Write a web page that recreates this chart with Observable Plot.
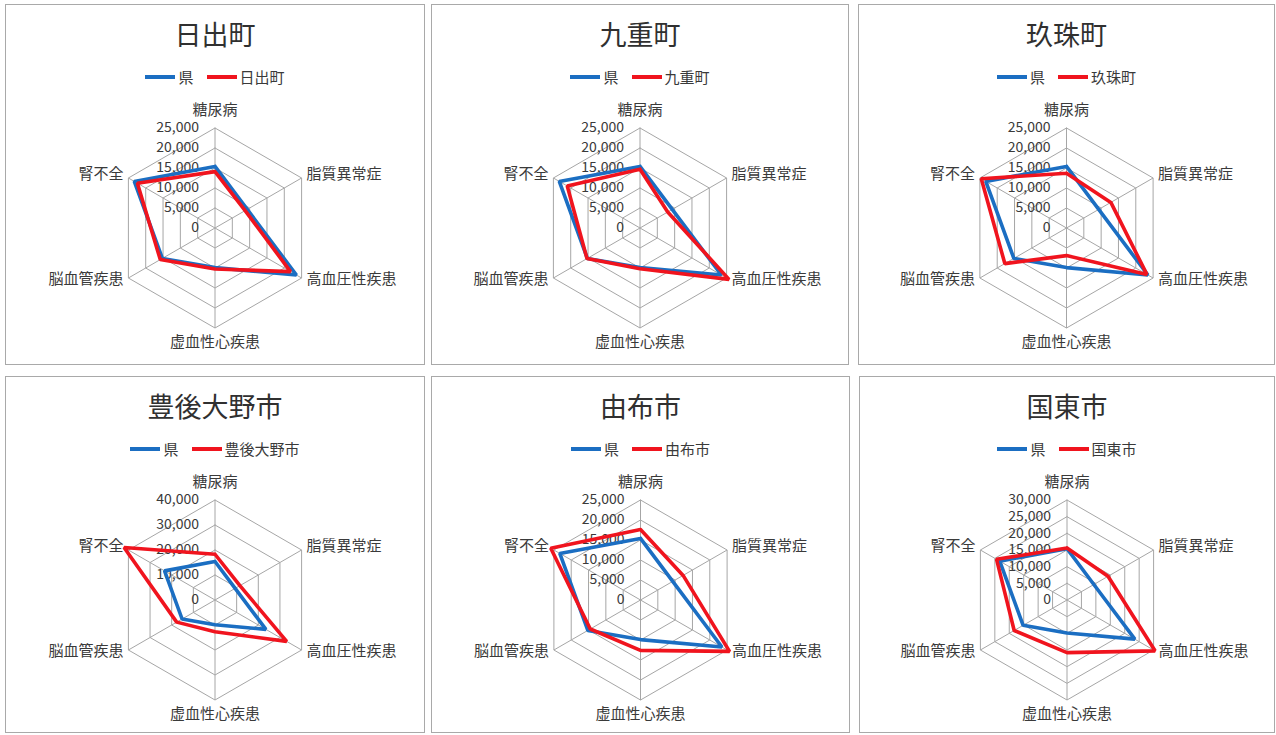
<!DOCTYPE html>
<html>
<head>
<meta charset="utf-8">
<script src="https://cdn.jsdelivr.net/npm/d3@7"></script>
<script src="https://cdn.jsdelivr.net/npm/@observablehq/plot@0.6"></script>
<style>
  html, body { margin: 0; padding: 0; background: #fff; }
  body { width: 1276px; height: 735px; position: relative; overflow: hidden;
         font-family: "Noto Sans CJK JP", "Noto Sans", sans-serif; color: #3a3a3a; }
  .panel { position: absolute; box-sizing: border-box; border: 1.5px solid #a9a9a9; background: #fff; }
  .title { position: absolute; left: 0; right: 0; text-align: center; font-size: 27px; line-height: 30px; color: #303030; }
  .legend { position: absolute; left: 0; right: 0; display: flex; justify-content: center; align-items: center;
            font-size: 15px; line-height: 18px; color: #3a3a3a; }
  .legend .item { display: flex; align-items: center; }
  .legend .sw { width: 30px; height: 4px; margin-right: 3px; }
  .legend .item + .item { margin-left: 13px; }
  .panel svg { position: absolute; left: 0; overflow: visible; }
</style>
</head>
<body>
<script>
// ---- data ----
const categories = ["糖尿病", "脂質異常症", "高血圧性疾患", "虚血性心疾患", "脳血管疾患", "腎不全"];
const prefName = "県";
const prefValues = [15400, 9300, 23500, 9900, 15200, 23300];
const areaNames = ["日出町", "九重町", "玖珠町", "豊後大野市", "由布市", "国東市"];
const hijiValues = [14100, 8700, 21800, 10250, 15800, 22400];
const kokonoeValues = [14700, 8000, 25700, 10200, 15300, 21000];
const kusuValues = [13700, 12800, 23200, 6900, 17800, 24600];
const bungoonoValues = [18300, 11500, 33100, 12700, 17700, 42000];
const yufuValues = [17600, 12300, 25700, 12600, 14500, 25900];
const kunisakiValues = [15600, 14200, 30500, 15800, 18300, 24400];
const ticks25k = [0, 5000, 10000, 15000, 20000, 25000];
const ticks40k = [0, 10000, 20000, 30000, 40000];
const ticks30k = [0, 5000, 10000, 15000, 20000, 25000, 30000];

const areaValues = [hijiValues, kokonoeValues, kusuValues, bungoonoValues, yufuValues, kunisakiValues];
const areaTicks = [ticks25k, ticks25k, ticks25k, ticks40k, ticks25k, ticks30k];

// ---- layout ----
const frames = [
  {left: 5, top: 4, w: 420, h: 361},
  {left: 431, top: 4, w: 418, h: 361},
  {left: 858, top: 4, w: 417, h: 361},
  {left: 5, top: 376, w: 420, h: 357},
  {left: 431, top: 376, w: 419, h: 357},
  {left: 859, top: 376, w: 416, h: 357}
];
const BLUE = "#1b6ec2", RED = "#f0141e", GRID = "#a6a6a6";
const R = 100;
const SVG_TOP = 92;
const fmt = d3.format(",");
const ang = i => i * Math.PI / 3;

// label pixel offsets per category (top, upper-right, lower-right, bottom, lower-left, upper-left)
const labelStyle = [
  {dx: 0, dy: -18, anchor: "middle"},
  {dx: 5, dy: -4, anchor: "start"},
  {dx: 5, dy: 1, anchor: "start"},
  {dx: 0, dy: 14, anchor: "middle"},
  {dx: -5, dy: 1, anchor: "end"},
  {dx: -5, dy: -4, anchor: "end"}
];

function polygon(values, key) {
  const pts = values.map((v, i) => ({k: key, x: v * Math.sin(ang(i)), y: v * Math.cos(ang(i))}));
  pts.push({...pts[0]});
  return pts;
}

areaNames.forEach((name, p) => {
  const f = frames[p];
  const ticks = areaTicks[p];
  const max = d3.max(ticks);
  const panel = document.createElement("div");
  panel.className = "panel";
  Object.assign(panel.style, {left: f.left + "px", top: f.top + "px", width: f.w + "px", height: f.h + "px"});
  document.body.appendChild(panel);

  const title = document.createElement("div");
  title.className = "title";
  title.style.top = (28.5 - 15) + "px";
  title.textContent = name;
  panel.appendChild(title);

  const legend = document.createElement("div");
  legend.className = "legend";
  legend.style.top = (71.5 - 9) + "px";
  [[prefName, BLUE], [name, RED]].forEach(([label, color]) => {
    const it = document.createElement("div");
    it.className = "item";
    const sw = document.createElement("div");
    sw.className = "sw";
    sw.style.background = color;
    const tx = document.createElement("span");
    tx.textContent = label;
    it.appendChild(sw); it.appendChild(tx);
    legend.appendChild(it);
  });
  panel.appendChild(legend);

  const innerW = f.w - 3;
  const H = f.h - 3 - SVG_TOP;
  const cx = innerW / 2;
  const cy = 222.5 - SVG_TOP;

  const rings = ticks.filter(t => t > 0).flatMap(t => polygon(categories.map(() => t), t));
  const spokes = categories.map((c, i) => ({x2: max * Math.sin(ang(i)), y2: max * Math.cos(ang(i))}));
  const pref = polygon(prefValues, prefName);
  const area = polygon(areaValues[p], name);

  const labelMarks = categories.map((c, i) => {
    const s = labelStyle[i];
    return Plot.text([c], {
      x: () => max * Math.sin(ang(i)), y: () => max * Math.cos(ang(i)),
      text: d => d, dx: s.dx, dy: s.dy, textAnchor: s.anchor,
      fontSize: 15, fill: "#3a3a3a"
    });
  });

  const svg = Plot.plot({
    width: innerW, height: H, margin: 0,
    style: {fontFamily: '"Noto Sans CJK JP", "Noto Sans", sans-serif', background: "transparent", overflow: "visible"},
    x: {type: "linear", domain: [-max, max], range: [cx - R, cx + R], axis: null},
    y: {type: "linear", domain: [-max, max], range: [cy + R, cy - R], axis: null},
    marks: [
      Plot.line(rings, {x: "x", y: "y", z: "k", stroke: GRID, strokeWidth: 1}),
      Plot.link(spokes, {x1: 0, y1: 0, x2: "x2", y2: "y2", stroke: GRID, strokeWidth: 1}),
      Plot.text(ticks, {x: 0, y: d => d, text: d => fmt(d), dx: -16, textAnchor: "end", fontSize: 14, fill: "#3a3a3a"}),
      ...labelMarks,
      Plot.line(pref, {x: "x", y: "y", stroke: BLUE, strokeWidth: 3.6, strokeLinejoin: "miter"}),
      Plot.line(area, {x: "x", y: "y", stroke: RED, strokeWidth: 3.6, strokeLinejoin: "miter"})
    ]
  });
  svg.style.top = SVG_TOP + "px";
  panel.appendChild(svg);
});
</script>
</body>
</html>
